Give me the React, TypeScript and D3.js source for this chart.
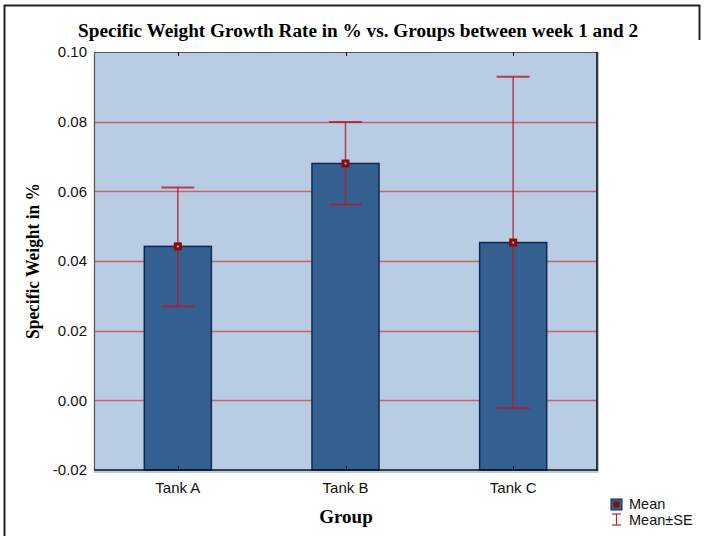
import React from "react";
import * as d3 from "d3";

// values
const groups = ["Tank A", "Tank B", "Tank C"];
const means = [0.0442, 0.068, 0.0453];
const seUpper = [0.0611, 0.0799, 0.0929];
const seLower = [0.027, 0.0562, -0.0023];
const yTicks = [-0.02, 0.0, 0.02, 0.04, 0.06, 0.08, 0.1];

const W = 704;
const H = 536;
const margin = { top: 52, right: 107, bottom: 66, left: 94 };

export default function App() {
  const x0 = margin.left;
  const x1 = W - margin.right;
  const y0 = margin.top;
  const y1 = H - margin.bottom;

  const x = d3
    .scaleBand()
    .domain(groups)
    .range([x0, x1])
    .paddingInner(0.6)
    .paddingOuter(0.3);

  const y = d3.scaleLinear().domain([-0.02, 0.1]).range([y1, y0]);

  const bw = x.bandwidth();
  const cap = 33;
  const serif = "'Liberation Serif', 'Times New Roman', serif";
  const sans = "'Liberation Sans', Arial, sans-serif";

  return (
    <svg
      width={W}
      height={H}
      style={{ position: "absolute", left: 0, top: 0, background: "#fff" }}
    >
      {/* outer frame */}
      <line x1={4.5} y1={5} x2={4.5} y2={H} stroke="#222" strokeWidth={2} />
      <line x1={4} y1={5.5} x2={700} y2={5.5} stroke="#222" strokeWidth={2} />
      <line x1={699.5} y1={5} x2={699.5} y2={40} stroke="#222" strokeWidth={2} />

      {/* title */}
      <text
        x={358}
        y={37}
        textAnchor="middle"
        fontFamily={serif}
        fontWeight="bold"
        fontSize={18}
        textLength={560}
        lengthAdjust="spacingAndGlyphs"
      >
        Specific Weight Growth Rate in % vs. Groups between week 1 and 2
      </text>

      {/* plot background with shadow */}
      <rect x={x0} y={y0} width={x1 - x0 + 2} height={y1 - y0 + 3} fill="#b8cce4" />

      {/* grid */}
      {yTicks
        .filter((t) => t > -0.02 && t < 0.1)
        .map((t) => (
          <line
            key={t}
            x1={x0}
            x2={x1}
            y1={Math.round(y(t)) + 0.5}
            y2={Math.round(y(t)) + 0.5}
            stroke="#c8505a"
            strokeOpacity={0.85}
            strokeWidth={1.3}
          />
        ))}

      {/* bars */}
      {groups.map((g, i) => (
        <rect
          key={g}
          x={x(g)!}
          y={y(means[i])}
          width={bw}
          height={y(-0.02) - y(means[i])}
          fill="#335f91"
          stroke="#10294d"
          strokeWidth={1.5}
        />
      ))}

      {/* error bars */}
      {groups.map((g, i) => {
        const cx = x(g)! + bw / 2;
        return (
          <g key={g} stroke="#b01c26" strokeOpacity={0.8} strokeWidth={1.5}>
            <line x1={cx} x2={cx} y1={y(seUpper[i])} y2={y(seLower[i])} />
            <line x1={cx - cap / 2} x2={cx + cap / 2} y1={y(seUpper[i])} y2={y(seUpper[i])} strokeWidth={2} />
            <line x1={cx - cap / 2} x2={cx + cap / 2} y1={y(seLower[i])} y2={y(seLower[i])} strokeWidth={2} />
          </g>
        );
      })}

      {/* mean markers */}
      {groups.map((g, i) => {
        const cx = x(g)! + bw / 2;
        const cy = y(means[i]);
        return (
          <g key={g}>
            <rect x={cx - 4} y={cy - 4} width={8} height={8} fill="#8b0a0f" />
            <rect x={cx - 1} y={cy - 1} width={2} height={2} fill="#9fb4d0" />
          </g>
        );
      })}

      {/* plot frame */}
      <line x1={x0} x2={x1} y1={y0 + 0.5} y2={y0 + 0.5} stroke="#555" strokeWidth={1.2} />
      <line x1={x0 + 0.5} x2={x0 + 0.5} y1={y0} y2={y1} stroke="#555" strokeWidth={1.2} />
      <line x1={x1} x2={x1} y1={y0} y2={y1 + 0.8} stroke="#111" strokeWidth={1.6} />
      <line x1={x0} x2={x1 + 0.8} y1={y1} y2={y1} stroke="#111" strokeWidth={1.6} />

      {/* category ticks (top and bottom, inward) */}
      {groups.map((g) => {
        const cx = Math.round(x(g)! + bw / 2) + 0.5;
        return (
          <g key={g} stroke="#111" strokeWidth={1}>
            <line x1={cx} x2={cx} y1={y0} y2={y0 + 4} />
            <line x1={cx} x2={cx} y1={y1} y2={y1 - 4} />
          </g>
        );
      })}

      {/* y tick labels */}
      {yTicks.map((t) => (
        <text
          key={t}
          x={87}
          y={y(t)}
          dy="0.35em"
          textAnchor="end"
          fontFamily={sans}
          fontSize={15}
          fill="#111"
        >
          {d3.format(".2f")(t).replace("−", "-")}
        </text>
      ))}

      {/* x tick labels */}
      {groups.map((g) => (
        <text
          key={g}
          x={x(g)! + bw / 2}
          y={493}
          textAnchor="middle"
          fontFamily={sans}
          fontSize={15}
          fill="#111"
        >
          {g}
        </text>
      ))}

      {/* axis titles */}
      <text
        x={346}
        y={523}
        textAnchor="middle"
        fontFamily={serif}
        fontWeight="bold"
        fontSize={19}
      >
        Group
      </text>
      <text
        transform={`translate(39,${(y0 + y1) / 2}) rotate(-90)`}
        textAnchor="middle"
        fontFamily={serif}
        fontWeight="bold"
        fontSize={18}
        textLength={156}
        lengthAdjust="spacingAndGlyphs"
      >
        Specific Weight in %
      </text>

      {/* legend */}
      <rect x={611} y={499} width={11} height={11} fill="#335f91" stroke="#10294d" strokeWidth={1} />
      <rect x={613.5} y={501.5} width={6} height={6} fill="#8b0a0f" />
      <text x={629} y={509} fontFamily={sans} fontSize={14.5} fill="#111">
        Mean
      </text>
      <g stroke="#c0202a" strokeWidth={1.2}>
        <line x1={616.5} x2={616.5} y1={514} y2={525} />
        <line x1={612} x2={621} y1={514} y2={514} />
        <line x1={612} x2={621} y1={525} y2={525} />
      </g>
      <text x={629} y={525} fontFamily={sans} fontSize={14.5} fill="#111">
        Mean±SE
      </text>
    </svg>
  );
}
